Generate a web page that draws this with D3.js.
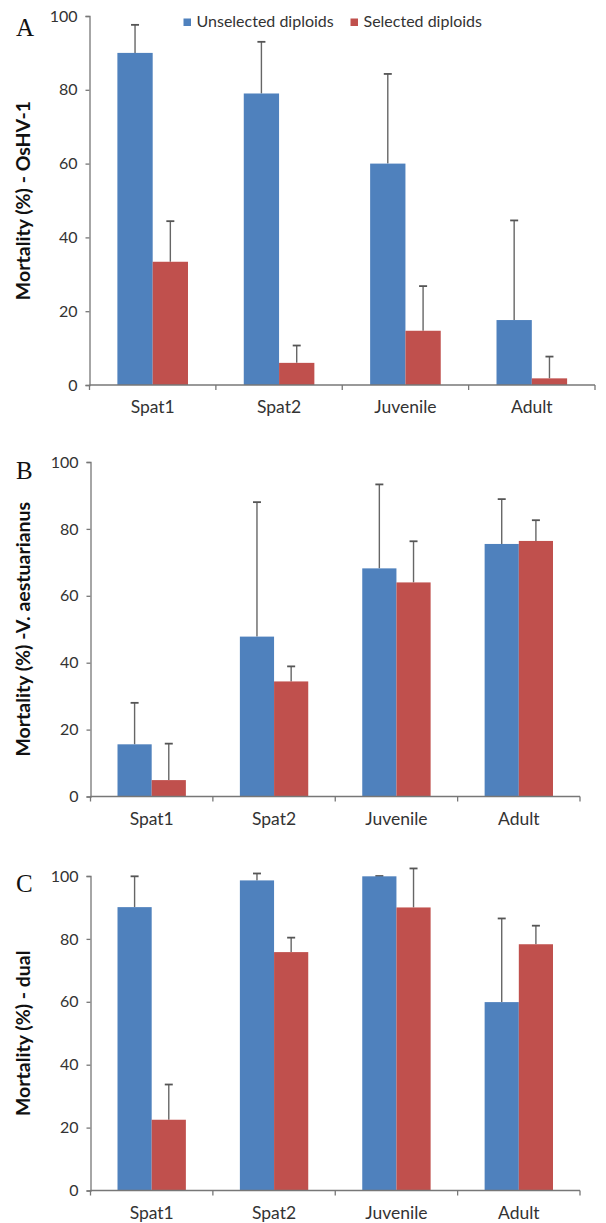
<!DOCTYPE html>
<html lang="en">
<head>
<meta charset="UTF-8">
<title>Mortality</title>
<style>
  body { margin: 0; background: #fff; }
  text { font-family: Lato, "Open Sans", sans-serif; }
</style>
</head>
<body>
<script src="https://d3js.org/d3.v7.min.js"></script>
<script>
// data
var categories = ['Spat1', 'Spat2', 'Juvenile', 'Adult'];
var seriesNames = ['Unselected diploids', 'Selected diploids'];
var yTicks = [0, 20, 40, 60, 80, 100];

var oshvUnselected = [90, 79, 60, 17.6];
var oshvUnselectedErr = [7.6, 14, 24.3, 27];
var oshvSelected = [33.4, 6, 14.7, 1.8];
var oshvSelectedErr = [11, 4.7, 12.1, 5.9];

var vibrioUnselected = [15.6, 47.8, 68.2, 75.5];
var vibrioUnselectedErr = [12.4, 40.2, 25.1, 13.4];
var vibrioSelected = [4.9, 34.4, 64, 76.4];
var vibrioSelectedErr = [10.9, 4.5, 12.3, 6.2];

var dualUnselected = [90.1, 98.6, 99.9, 59.9];
var dualUnselectedErr = [9.8, 2.2, 0.1, 26.6];
var dualSelected = [22.5, 75.8, 90, 78.3];
var dualSelectedErr = [11.2, 4.6, 12.4, 5.9];

var colors = ['#4f81bd', '#c0504d'];
var axisColor = '#777';

var svg = d3.select('body').append('svg')
    .attr('width', 606)
    .attr('height', 1223);

function drawPanel(p) {
    var g = svg.append('g');

    var x = d3.scaleBand().domain(categories).range([p.left, p.right]);
    var xs = d3.scaleBand().domain(seriesNames).range([0, x.bandwidth()]).paddingOuter(0.79);
    var y = d3.scaleLinear().domain([0, 100]).range([p.bottom, p.top]);

    var flat = [];
    categories.forEach(function (c, i) {
        seriesNames.forEach(function (s, j) {
            flat.push({ cat: c, s: s, k: j, v: p.vals[j][i], e: p.errs[j][i] });
        });
    });
    var cx = d => x(d.cat) + xs(d.s) + xs.bandwidth() / 2;

    // error bars (upper only), behind the bars
    var eb = g.selectAll('.err').data(flat).enter().append('g').attr('class', 'err');
    eb.append('line')
        .attr('x1', cx).attr('x2', cx)
        .attr('y1', d => y(d.v))
        .attr('y2', d => y(d.v + d.e))
        .attr('stroke', '#666').attr('stroke-width', 1.4);
    eb.append('line')
        .attr('x1', d => cx(d) - 4).attr('x2', d => cx(d) + 4)
        .attr('y1', d => y(d.v + d.e))
        .attr('y2', d => y(d.v + d.e))
        .attr('stroke', '#555').attr('stroke-width', 1.8);

    g.selectAll('.bar').data(flat).enter().append('rect')
        .attr('class', 'bar')
        .attr('x', d => x(d.cat) + xs(d.s))
        .attr('width', xs.bandwidth())
        .attr('y', d => y(d.v))
        .attr('height', d => y(0) - y(d.v))
        .attr('fill', d => colors[d.k]);

    // y axis
    var ya = g.append('g')
        .attr('transform', `translate(${p.left},0)`)
        .call(d3.axisLeft(y).tickValues(yTicks).tickSize(4).tickPadding(8));
    ya.select('.domain').attr('stroke', axisColor).attr('stroke-width', 1.3);
    ya.selectAll('.tick line').attr('stroke', axisColor).attr('stroke-width', 1.3);
    ya.selectAll('.tick text').attr('fill', '#333').style('font-size', '16px')
        .style('font-family', 'Lato, sans-serif');

    // x axis: line with ticks at category boundaries
    var xa = g.append('g');
    xa.append('line')
        .attr('x1', p.left).attr('x2', p.right)
        .attr('y1', y(0)).attr('y2', y(0))
        .attr('stroke', axisColor).attr('stroke-width', 1.3);
    var bounds = categories.map(c => x(c)).concat([p.right]);
    xa.selectAll('.xt').data(bounds).enter().append('line')
        .attr('x1', d => d).attr('x2', d => d)
        .attr('y1', y(0)).attr('y2', y(0) + 5)
        .attr('stroke', axisColor).attr('stroke-width', 1.3);
    xa.selectAll('.xl').data(categories).enter().append('text')
        .text(d => d)
        .attr('x', d => x(d) + x.bandwidth() / 2)
        .attr('y', y(0) + 28)
        .attr('text-anchor', 'middle')
        .attr('fill', '#333')
        .style('font-size', '17.5px');

    // y title, centred on the plot
    g.append('text')
        .text(p.title)
        .attr('transform', `translate(30,${(p.top + p.bottom) / 2}) rotate(-90)`)
        .attr('text-anchor', 'middle')
        .style('font-size', '19.5px')
        .style('font-weight', 'bold')
        .attr('fill', '#111');

    // panel letter
    g.append('text')
        .text(p.letter)
        .attr('x', 16)
        .attr('y', p.letterY)
        .style('font-family', '"Liberation Serif", "DejaVu Serif", serif')
        .style('font-size', '25px')
        .attr('fill', '#111');
}

drawPanel({
    letter: 'A', letterY: 36,
    title: 'Mortality (%) - OsHV-1',
    left: 89.5, right: 595, top: 16, bottom: 385,
    vals: [oshvUnselected, oshvSelected],
    errs: [oshvUnselectedErr, oshvSelectedErr]
});

drawPanel({
    letter: 'B', letterY: 479,
    title: 'Mortality (%) -V. aestuarianus',
    left: 90.5, right: 580, top: 462, bottom: 796.5,
    vals: [vibrioUnselected, vibrioSelected],
    errs: [vibrioUnselectedErr, vibrioSelectedErr]
});

drawPanel({
    letter: 'C', letterY: 892,
    title: 'Mortality (%) - dual',
    left: 90.5, right: 580, top: 876, bottom: 1190.5,
    vals: [dualUnselected, dualSelected],
    errs: [dualUnselectedErr, dualSelectedErr]
});

// legend (top of panel A)
var legendX = [183.5, 350.5];
var legend = svg.selectAll('.legend').data(seriesNames).enter().append('g')
    .attr('class', 'legend')
    .attr('transform', (d, i) => `translate(${legendX[i]},18.5)`);
legend.append('rect')
    .attr('width', 7.5).attr('height', 7.5)
    .attr('fill', (d, i) => colors[i]);
legend.append('text')
    .text(d => d)
    .attr('x', 13)
    .attr('y', 8.5)
    .attr('fill', '#333')
    .style('font-size', '16px');
</script>
</body>
</html>
